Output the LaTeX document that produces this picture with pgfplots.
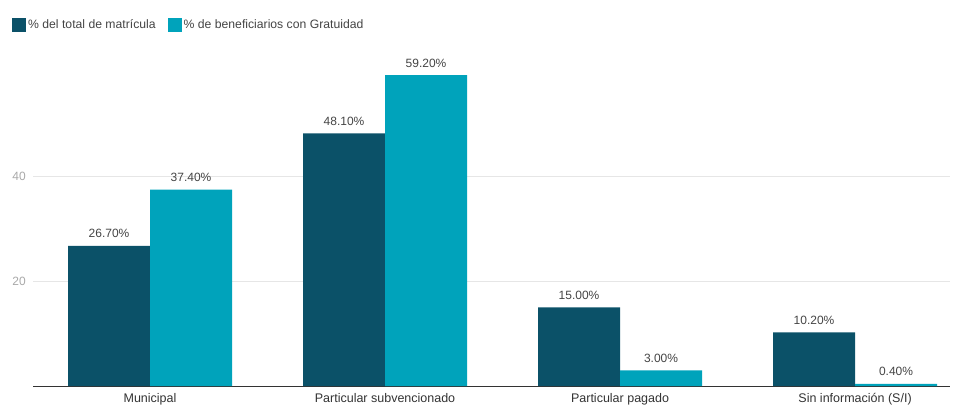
\documentclass[border=0pt]{standalone}
\usepackage{pgfplots}
\pgfplotsset{compat=1.18}
\usepackage{fontspec}
\setmainfont{Liberation Sans}
\definecolor{cdark}{HTML}{0B5168}
\definecolor{ccyan}{HTML}{00A3BB}
\definecolor{txt}{HTML}{444444}
\definecolor{ytk}{HTML}{A8A8A8}
\definecolor{gridc}{HTML}{E6E6E6}
\begin{document}
\begin{tikzpicture}
\path[use as bounding box] (0pt,0pt) rectangle (960pt,405pt);
\begin{axis}[
  at={(33pt,19pt)}, anchor=south west,
  scale only axis, width=917pt, height=315pt,
  ybar=0pt, bar width=82pt,
  xmin=-0.498, xmax=3.404, ymin=0, ymax=60,
  xtick={0,1,2,3},
  xticklabels={Municipal, Particular subvencionado, Particular pagado, Sin información (S/I)},
  ytick={20,40},
  major tick length=0pt,
  axis x line*=bottom, axis y line*=left,
  y axis line style={draw=none},
  x axis line style={draw=black!80, line width=0.8pt},
  ymajorgrids, grid style={gridc, line width=0.8pt},
  xticklabel style={font=\fontsize{12.5}{14}\selectfont, text=black!80, anchor=base, inner sep=0pt, yshift=-16pt},
  yticklabel style={font=\fontsize{12}{14}\selectfont, text=ytk, anchor=east, inner sep=0pt, xshift=-7pt},
  /pgf/number format/assume math mode=true,
  nodes near coords={\pgfmathprintnumber[fixed,fixed zerofill,precision=2]{\pgfplotspointmeta}\%},
  every node near coord/.append style={font=\fontsize{12}{14}\selectfont, text=txt, anchor=base, inner sep=0pt, yshift=8pt},
  legend style={at={(-0.0229,1.146)}, anchor=west, draw=none, fill=none, inner sep=0pt,
    font=\fontsize{12.2}{14}\selectfont, text=txt, legend columns=2,
    /tikz/every even column/.append style={column sep=10pt}},
  legend cell align=left,
  legend image code/.code={\fill[#1] (0pt,-7pt) rectangle (14pt,7pt);},
]
\addplot[fill=cdark, draw=none] coordinates {(0,26.7) (1,48.1) (2,15.0) (3,10.2)};
\addplot[fill=ccyan, draw=none] coordinates {(0,37.4) (1,59.2) (2,3.0) (3,0.4)};
\legend{\% del total de matrícula, \% de beneficiarios con Gratuidad}
\end{axis}
\end{tikzpicture}
\end{document}
